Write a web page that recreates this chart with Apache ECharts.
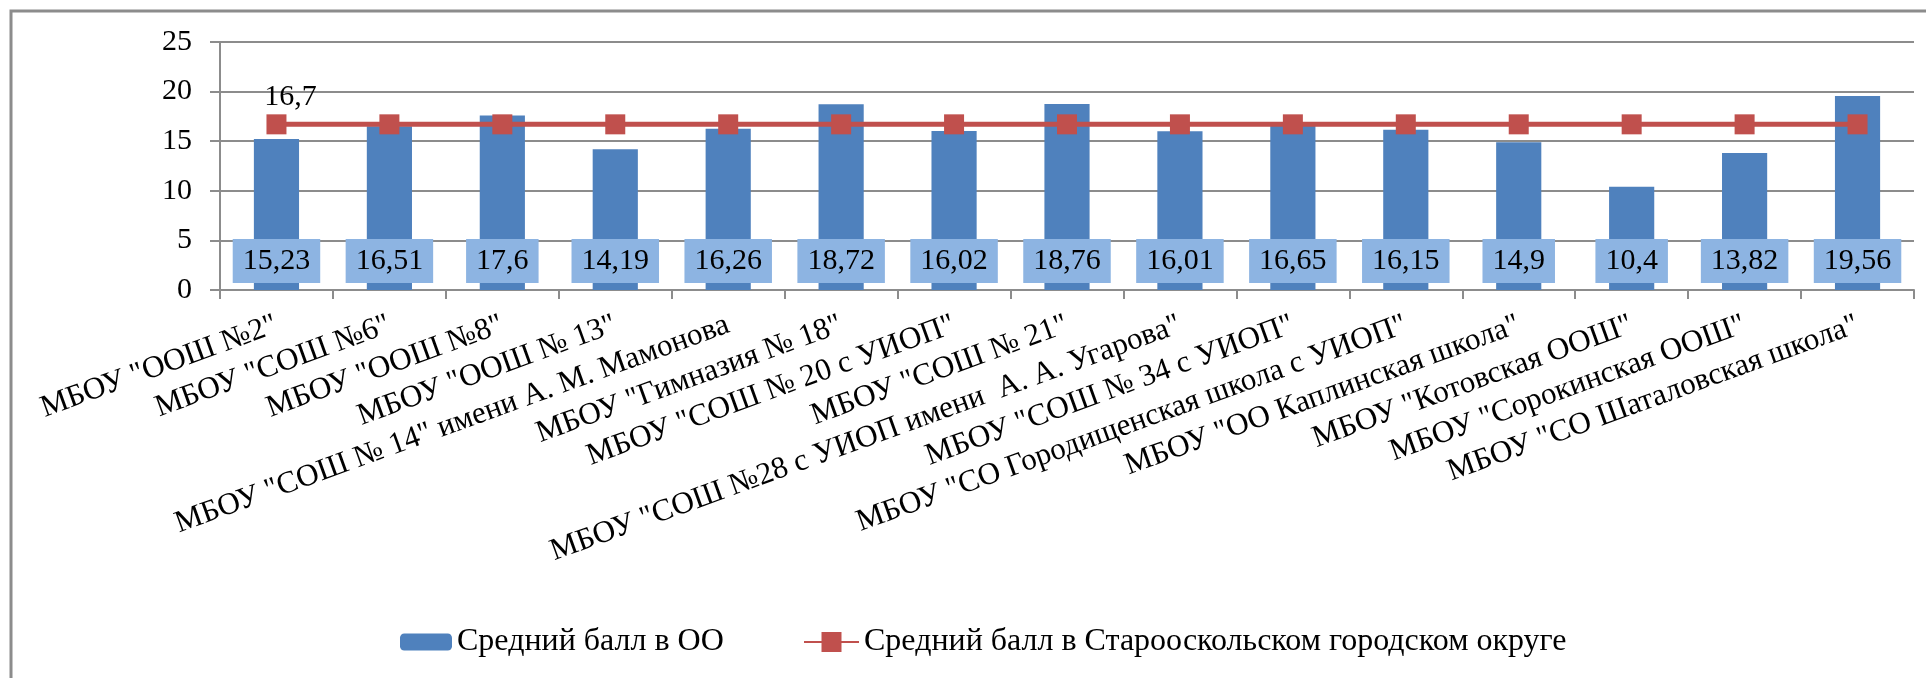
<!DOCTYPE html>
<html>
<head>
<meta charset="utf-8">
<script src="https://cdn.jsdelivr.net/npm/echarts@6/dist/echarts.min.js"></script>
<style>
html,body{margin:0;padding:0;background:#fff;}
#chart{width:1926px;height:678px;}
</style>
</head>
<body>
<div id="chart"></div>
<script>
const categories = [
  'МБОУ "ООШ №2"',
  'МБОУ "СОШ №6"',
  'МБОУ "ООШ №8"',
  'МБОУ "ООШ № 13"',
  'МБОУ "СОШ № 14" имени А. М. Мамонова',
  'МБОУ "Гимназия № 18"',
  'МБОУ "СОШ № 20 с УИОП"',
  'МБОУ "СОШ № 21"',
  'МБОУ "СОШ №28 с УИОП имени  А. А. Угарова"',
  'МБОУ "СОШ № 34 с УИОП"',
  'МБОУ "СО Городищенская школа с УИОП"',
  'МБОУ "ОО Каплинская школа"',
  'МБОУ "Котовская ООШ"',
  'МБОУ "Сорокинская ООШ"',
  'МБОУ "СО Шаталовская школа"'
];
const schoolAvg = [15.23, 16.51, 17.6, 14.19, 16.26, 18.72, 16.02, 18.76, 16.01, 16.65, 16.15, 14.9, 10.4, 13.82, 19.56];
const districtAvg = [16.7, 16.7, 16.7, 16.7, 16.7, 16.7, 16.7, 16.7, 16.7, 16.7, 16.7, 16.7, 16.7, 16.7, 16.7];
const seriesNames = ['Средний балл в ОО', 'Средний балл в Старооскольском городском округе'];
const yTicks = {min: 0, max: 25, interval: 5};

const FONT = '"Liberation Serif", "Times New Roman", serif';
const fmt = v => String(v).replace('.', ',');

const chart = echarts.init(document.getElementById('chart'), null, {renderer: 'canvas'});
chart.setOption({
  animation: false,
  backgroundColor: '#fff',
  textStyle: {fontFamily: FONT},
  graphic: [{
    type: 'rect',
    shape: {x: 11, y: 11, width: 1930, height: 700},
    style: {fill: 'none', stroke: '#8c8c8c', lineWidth: 3},
    silent: true
  }],
  grid: {left: 220, right: 12, top: 42, bottom: 388, containLabel: false},
  legend: [
    {
      left: 400, top: 626, padding: 0,
      itemWidth: 52, itemHeight: 17,
      textStyle: {fontFamily: FONT, fontSize: 32, color: '#000'},
      data: [seriesNames[0]]
    },
    {
      left: 803, top: 626, padding: 0,
      itemWidth: 55, itemHeight: 25,
      textStyle: {fontFamily: FONT, fontSize: 32, color: '#000'},
      data: [seriesNames[1]]
    }
  ],
  xAxis: {
    type: 'category',
    data: categories,
    boundaryGap: true,
    axisLine: {lineStyle: {color: '#8c8c8c', width: 2}},
    axisTick: {show: true, length: 9, alignWithLabel: false, lineStyle: {color: '#8c8c8c', width: 2}},
    axisLabel: {interval: 0, rotate: 20, margin: 34, fontFamily: FONT, fontSize: 31, color: '#000'}
  },
  yAxis: {
    type: 'value',
    min: yTicks.min, max: yTicks.max, interval: yTicks.interval,
    axisLine: {show: true, lineStyle: {color: '#8c8c8c', width: 2}},
    axisTick: {show: true, length: 10, lineStyle: {color: '#8c8c8c', width: 2}},
    splitLine: {lineStyle: {color: '#8c8c8c', width: 2}},
    axisLabel: {margin: 28, fontFamily: FONT, fontSize: 30, color: '#000'}
  },
  series: [
    {
      name: seriesNames[0],
      type: 'bar',
      data: schoolAvg,
      barWidth: '40%',
      itemStyle: {color: '#4F81BD'},
      label: {
        show: true, position: 'insideBottom', distance: 7,
        formatter: p => fmt(p.value),
        fontFamily: FONT, fontSize: 30, lineHeight: 30, color: '#000',
        backgroundColor: '#8DB4E2', padding: [7, 10]
      },
      z: 2
    },
    {
      name: seriesNames[1],
      type: 'line',
      data: districtAvg.map((v, i) => i === 0 ? {value: v, label: {show: true}} : v),
      symbol: 'rect', symbolSize: 20,
      lineStyle: {color: '#C0504D', width: 5},
      itemStyle: {color: '#C0504D'},
      label: {
        show: false, position: 'top', distance: 2, offset: [14, 0],
        formatter: p => fmt(p.value),
        fontFamily: FONT, fontSize: 30, color: '#000'
      },
      z: 3
    }
  ]
});
</script>
</body>
</html>
